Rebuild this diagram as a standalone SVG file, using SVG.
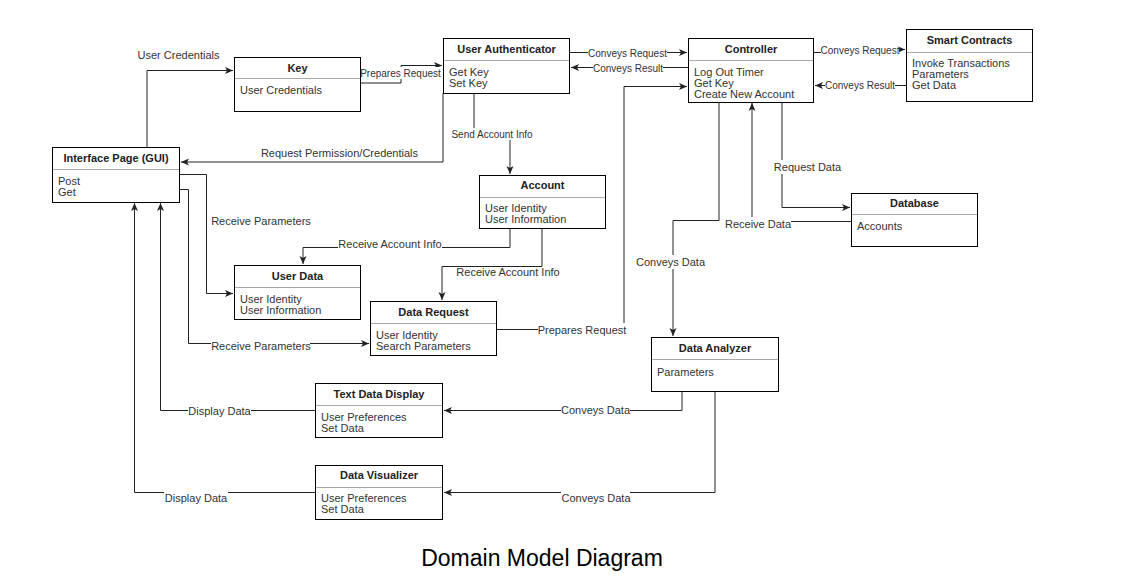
<svg xmlns="http://www.w3.org/2000/svg" width="1132" height="583" viewBox="0 0 1132 583">
<style>
.box{fill:#fff;stroke:#000;stroke-width:1}
.sep{stroke:#aaa;stroke-width:1}
.t{font-family:"Liberation Sans",Arial,sans-serif;font-size:11px;font-weight:bold;fill:#222;text-anchor:middle}
.b{font-family:"Liberation Sans",Arial,sans-serif;font-size:11px;fill:#333}
.c{fill:none;stroke:#222;stroke-width:1}
.l{font-family:"Liberation Sans",Arial,sans-serif;font-size:11px;fill:#333;text-anchor:middle}
.s{font-size:10px}
.bg{fill:#fff}
.cap{font-family:"Liberation Sans",Arial,sans-serif;font-size:23px;fill:#000;text-anchor:middle}
</style>
<defs>
<marker id="arr" markerUnits="userSpaceOnUse" markerWidth="9" markerHeight="8" refX="8" refY="4" orient="auto">
<path d="M0,0.5 L8,4 L0,7.5 L2,4 z" fill="#222"/>
</marker>
</defs>
<rect width="1132" height="583" fill="#fff"/>

<g id="connectors">
<path class="c" d="M147,147 V70.5 H233" marker-end="url(#arr)"/>
<path class="c" d="M361,83 H401 V65.5 H442" marker-end="url(#arr)"/>
<path class="c" d="M443,93 V162 H181" marker-end="url(#arr)"/>
<path class="c" d="M474,93 V134 H510 V174" marker-end="url(#arr)"/>
<path class="c" d="M570,52.5 H687" marker-end="url(#arr)"/>
<path class="c" d="M688,67.5 H571" marker-end="url(#arr)"/>
<path class="c" d="M814,52.5 H860 V49.5 H905" marker-end="url(#arr)"/>
<path class="c" d="M906,85.5 H815" marker-end="url(#arr)"/>
<path class="c" d="M782,102 V207.5 H850" marker-end="url(#arr)"/>
<path class="c" d="M851,221.5 H752 V103" marker-end="url(#arr)"/>
<path class="c" d="M719,102 V220.5 H673 V336" marker-end="url(#arr)"/>
<path class="c" d="M497,329.5 H624 V86.5 H687" marker-end="url(#arr)"/>
<path class="c" d="M510,229 V247.5 H303 V264" marker-end="url(#arr)"/>
<path class="c" d="M542,229 V266.5 H442 V300" marker-end="url(#arr)"/>
<path class="c" d="M180,174.5 H206.5 V293.5 H233" marker-end="url(#arr)"/>
<path class="c" d="M180,189.5 H188.5 V343.5 H369" marker-end="url(#arr)"/>
<path class="c" d="M315,410.5 H160.5 V203" marker-end="url(#arr)"/>
<path class="c" d="M315,492.5 H134.5 V203" marker-end="url(#arr)"/>
<path class="c" d="M682,392 V410.5 H444" marker-end="url(#arr)"/>
<path class="c" d="M715,392 V492.5 H444" marker-end="url(#arr)"/>

<text class="l" x="178.5" y="59">User Credentials</text>
<rect class="bg" x="362" y="67" width="78" height="12"/>
<text class="l s" x="400.5" y="76.5">Prepares Request</text>
<text class="l" x="339.5" y="157">Request Permission/Credentials</text>
<rect class="bg" x="451" y="128" width="82" height="12"/>
<text class="l s" x="492" y="137.5">Send Account Info</text>
<rect class="bg" x="588" y="47" width="79" height="12"/>
<text class="l s" x="627.5" y="56.5">Conveys Request</text>
<rect class="bg" x="593" y="62" width="70" height="12"/>
<text class="l s" x="628" y="71.5">Conveys Result</text>
<rect class="bg" x="821" y="44" width="78" height="12"/>
<text class="l s" x="860" y="53.5">Conveys Request</text>
<rect class="bg" x="825" y="79" width="70" height="12"/>
<text class="l s" x="860" y="88.5">Conveys Result</text>
<rect class="bg" x="774" y="160" width="67" height="14"/>
<text class="l" x="807.5" y="171">Request Data</text>
<rect class="bg" x="725" y="217" width="66" height="14"/>
<text class="l" x="758" y="228">Receive Data</text>
<rect class="bg" x="636" y="255" width="69" height="14"/>
<text class="l" x="670.5" y="266">Conveys Data</text>
<rect class="bg" x="538" y="323" width="88" height="14"/>
<text class="l" x="582" y="334">Prepares Request</text>
<rect class="bg" x="338" y="237" width="104" height="14"/>
<text class="l" x="390" y="248">Receive Account Info</text>
<text class="l" x="508" y="276">Receive Account Info</text>
<text class="l" x="261" y="225">Receive Parameters</text>
<rect class="bg" x="211" y="339" width="99" height="14"/>
<text class="l" x="261" y="350">Receive Parameters</text>
<rect class="bg" x="188" y="404" width="63" height="14"/>
<text class="l" x="219.5" y="415">Display Data</text>
<rect class="bg" x="164" y="490" width="64" height="14"/>
<text class="l" x="196" y="502">Display Data</text>
<rect class="bg" x="561" y="403" width="69" height="14"/>
<text class="l" x="595.5" y="414">Conveys Data</text>
<rect class="bg" x="561" y="490" width="69" height="14"/>
<text class="l" x="596" y="502">Conveys Data</text>
</g>

<g id="gui">
<rect class="box" x="52.5" y="147.5" width="127" height="55"/>
<line class="sep" x1="53" y1="169.5" x2="179" y2="169.5"/>
<text class="t" x="116" y="162">Interface Page (GUI)</text>
<text class="b" x="58" y="185">Post</text>
<text class="b" x="58" y="196">Get</text>
</g>
<g id="key">
<rect class="box" x="234.5" y="57.5" width="126" height="54"/>
<line class="sep" x1="235" y1="78.5" x2="360" y2="78.5"/>
<text class="t" x="297.5" y="71.5">Key</text>
<text class="b" x="240" y="94">User Credentials</text>
</g>
<g id="user-authenticator">
<rect class="box" x="443.5" y="38.5" width="126" height="55"/>
<line class="sep" x1="444" y1="60.5" x2="569" y2="60.5"/>
<text class="t" x="506.5" y="53">User Authenticator</text>
<text class="b" x="449" y="76">Get Key</text>
<text class="b" x="449" y="87">Set Key</text>
</g>
<g id="controller">
<rect class="box" x="688.5" y="38.5" width="125" height="64"/>
<line class="sep" x1="689" y1="60.5" x2="813" y2="60.5"/>
<text class="t" x="751" y="53">Controller</text>
<text class="b" x="694" y="76">Log Out Timer</text>
<text class="b" x="694" y="87">Get Key</text>
<text class="b" x="694" y="98">Create New Account</text>
</g>
<g id="smart-contracts">
<rect class="box" x="906.5" y="29.5" width="126" height="72"/>
<line class="sep" x1="907" y1="52.5" x2="1032" y2="52.5"/>
<text class="t" x="969.5" y="44">Smart Contracts</text>
<text class="b" x="912" y="67">Invoke Transactions</text>
<text class="b" x="912" y="78">Parameters</text>
<text class="b" x="912" y="89">Get Data</text>
</g>
<g id="database">
<rect class="box" x="851.5" y="193.5" width="126" height="53"/>
<line class="sep" x1="852" y1="214.5" x2="977" y2="214.5"/>
<text class="t" x="914.5" y="207">Database</text>
<text class="b" x="857" y="230">Accounts</text>
</g>
<g id="account">
<rect class="box" x="479.5" y="175.5" width="126" height="53"/>
<line class="sep" x1="480" y1="197.5" x2="605" y2="197.5"/>
<text class="t" x="542.5" y="188.5">Account</text>
<text class="b" x="485" y="212">User Identity</text>
<text class="b" x="485" y="223">User Information</text>
</g>
<g id="user-data">
<rect class="box" x="234.5" y="265.5" width="126" height="54"/>
<line class="sep" x1="235" y1="287.5" x2="360" y2="287.5"/>
<text class="t" x="297.5" y="280">User Data</text>
<text class="b" x="240" y="303">User Identity</text>
<text class="b" x="240" y="314">User Information</text>
</g>
<g id="data-request">
<rect class="box" x="370.5" y="301.5" width="126" height="54"/>
<line class="sep" x1="371" y1="323.5" x2="496" y2="323.5"/>
<text class="t" x="433.5" y="316">Data Request</text>
<text class="b" x="376" y="339">User Identity</text>
<text class="b" x="376" y="350">Search Parameters</text>
</g>
<g id="data-analyzer">
<rect class="box" x="651.5" y="337.5" width="127" height="54"/>
<line class="sep" x1="652" y1="359.5" x2="778" y2="359.5"/>
<text class="t" x="715" y="352">Data Analyzer</text>
<text class="b" x="657" y="376">Parameters</text>
</g>
<g id="text-data-display">
<rect class="box" x="315.5" y="383.5" width="127" height="54"/>
<line class="sep" x1="316" y1="405.5" x2="442" y2="405.5"/>
<text class="t" x="379" y="398">Text Data Display</text>
<text class="b" x="321" y="421">User Preferences</text>
<text class="b" x="321" y="432">Set Data</text>
</g>
<g id="data-visualizer">
<rect class="box" x="315.5" y="465.5" width="127" height="54"/>
<line class="sep" x1="316" y1="487.5" x2="442" y2="487.5"/>
<text class="t" x="379" y="479">Data Visualizer</text>
<text class="b" x="321" y="502">User Preferences</text>
<text class="b" x="321" y="513">Set Data</text>
</g>
<text class="cap" x="542" y="566">Domain Model Diagram</text>
</svg>
